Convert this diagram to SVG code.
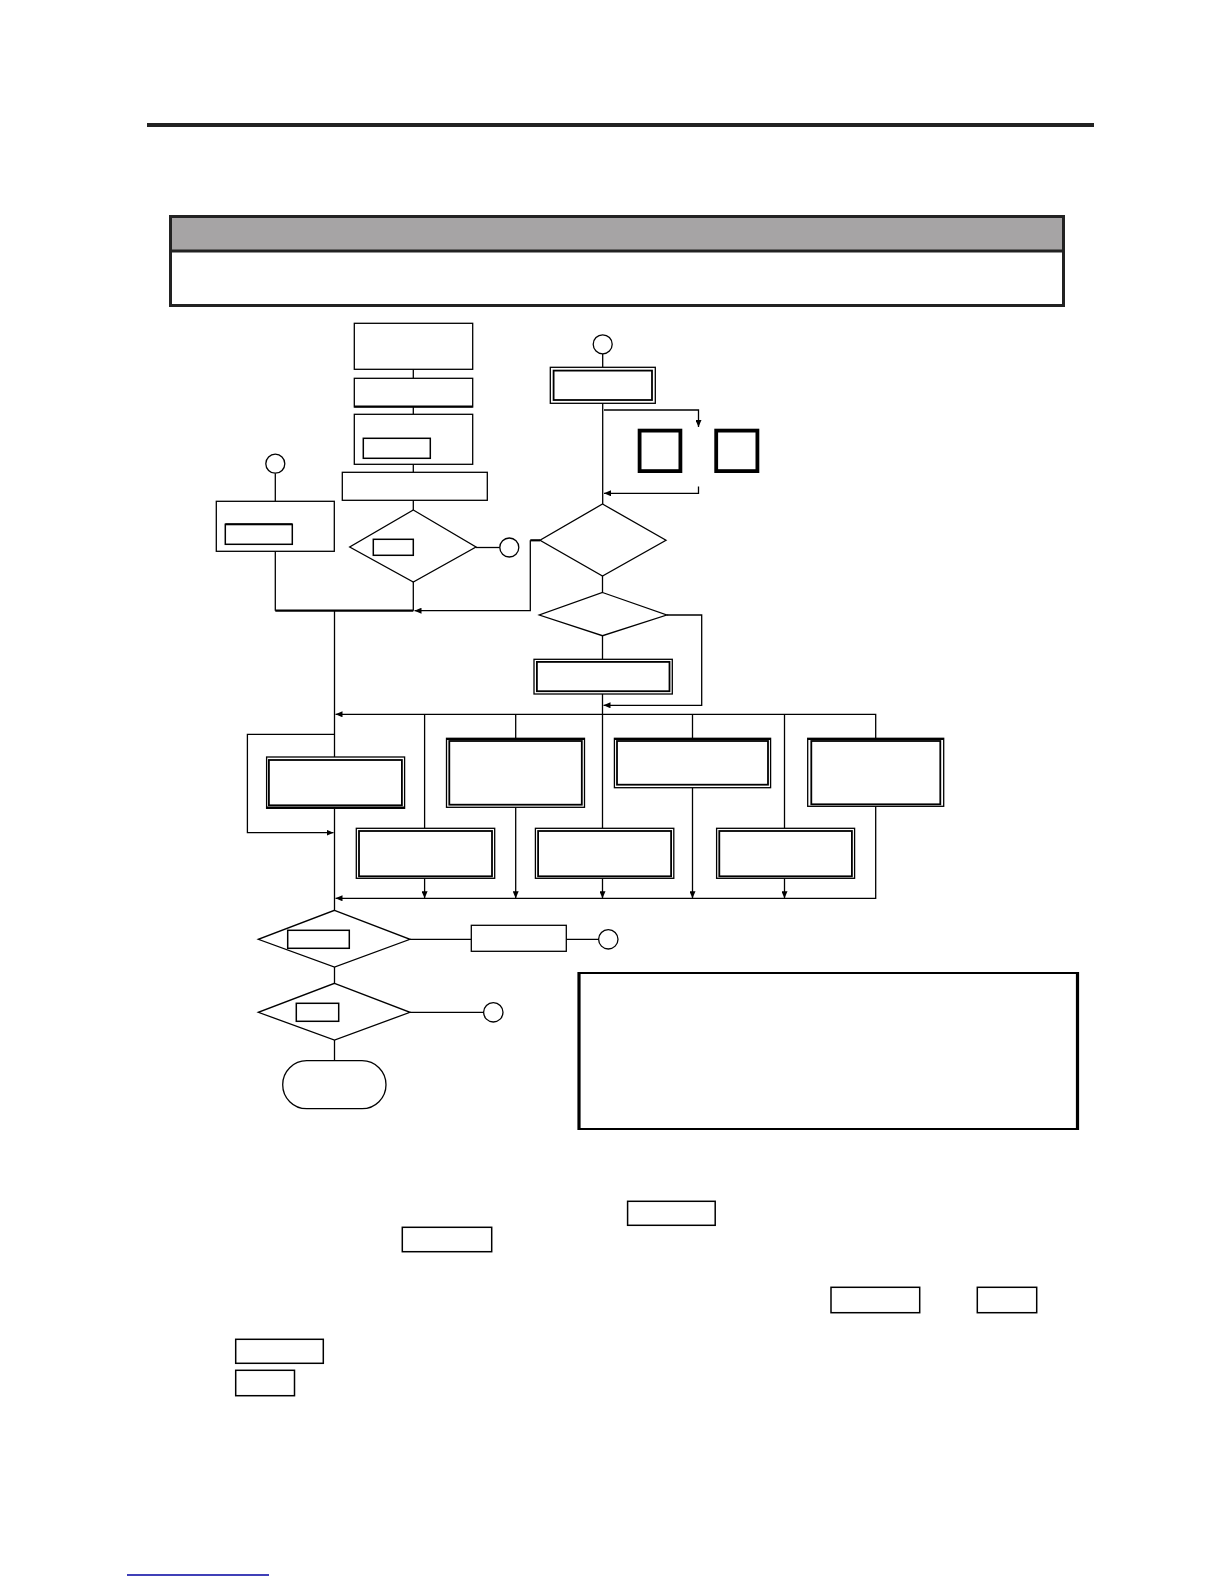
<svg xmlns="http://www.w3.org/2000/svg" width="1224" height="1584" viewBox="0 0 1224 1584">
<style>
.n{fill:#fff;stroke:#000;stroke-width:1.3}
.in{fill:none;stroke:#000;stroke-width:1.8}
.c{fill:none;stroke:#000;stroke-width:1.3}
.thk{fill:none;stroke:#000;stroke-width:2.2}
.sq{fill:#fff;stroke:#000;stroke-width:3.8}
.lab{fill:#fff;stroke:#000;stroke-width:1.5}
</style>
<defs>
<marker id="ar" viewBox="0 0 7 6" markerWidth="7" markerHeight="6" refX="7" refY="3" orient="auto" markerUnits="userSpaceOnUse">
<path d="M0,0 L7,3 L0,6 z" fill="#000"/>
</marker>
</defs>
<rect width="1224" height="1584" fill="#fff"/>

<g id="page-frame">
<line x1="147" y1="125" x2="1094" y2="125" stroke="#222" stroke-width="4"/>
<rect x="170.5" y="216.5" width="893" height="89" fill="#fff" stroke="#222" stroke-width="3"/>
<rect x="172" y="218" width="890" height="32" fill="#a6a4a5"/>
<line x1="170.5" y1="251" x2="1063.5" y2="251" stroke="#222" stroke-width="3"/>
<line x1="127" y1="1575" x2="269" y2="1575" stroke="#0000a0" stroke-width="1.5"/>
</g>

<g id="connectors">
<line class="c" x1="413.3" y1="369.3" x2="413.3" y2="378.3"/>
<line class="c" x1="413.3" y1="407" x2="413.3" y2="414.3"/>
<line class="c" x1="413.3" y1="464.3" x2="413.3" y2="472.3"/>
<line class="c" x1="413.3" y1="500.3" x2="413.3" y2="510"/>
<line class="c" x1="476" y1="547.5" x2="499.8" y2="547.5"/>
<line class="c" x1="275.3" y1="473.2" x2="275.3" y2="501.3"/>
<polyline class="c" points="275.3,551.3 275.3,610.7"/>
<line class="thk" x1="275.3" y1="610.7" x2="413.3" y2="610.7"/>
<line class="c" x1="413.3" y1="582" x2="413.3" y2="610.7"/>
<line class="thk" x1="540" y1="540.3" x2="530.3" y2="540.3"/>
<polyline class="c" points="530.3,540.3 530.3,610.7 414.5,610.7" marker-end="url(#ar)"/>
<line class="c" x1="334.5" y1="610.7" x2="334.5" y2="757"/>
<line class="c" x1="602.7" y1="353.8" x2="602.7" y2="367.3"/>
<line class="c" x1="602.7" y1="403.3" x2="602.7" y2="504"/>
<polyline class="c" points="604,410 698.5,410 698.5,427" marker-end="url(#ar)"/>
<polyline class="c" points="698.5,486.5 698.5,493.3 604,493.3" marker-end="url(#ar)"/>
<line class="c" x1="602.5" y1="576" x2="602.5" y2="592.5"/>
<polyline class="c" points="666.5,615 701.7,615 701.7,705.3 603.5,705.3" marker-end="url(#ar)"/>
<line class="c" x1="602.5" y1="635.7" x2="602.5" y2="659.3"/>
<line class="c" x1="602.5" y1="694" x2="602.5" y2="828.3"/>
<polyline class="c" points="875.7,738.3 875.7,714.3 335.5,714.3" marker-end="url(#ar)"/>
<line class="c" x1="424.6" y1="714.3" x2="424.6" y2="828.3"/>
<line class="c" x1="515.7" y1="714.3" x2="515.7" y2="738.3"/>
<line class="c" x1="692.5" y1="714.3" x2="692.5" y2="738.3"/>
<line class="c" x1="784.5" y1="714.3" x2="784.5" y2="828.3"/>
<polyline class="c" points="334.5,734.3 247.4,734.3 247.4,832.7 333.5,832.7" marker-end="url(#ar)"/>
<line class="c" x1="334.5" y1="808.3" x2="334.5" y2="910.3"/>
<polyline class="c" points="875.7,806.3 875.7,898.3 335.5,898.3" marker-end="url(#ar)"/>
<line class="c" x1="424.6" y1="878.3" x2="424.6" y2="898.3" marker-end="url(#ar)"/>
<line class="c" x1="515.7" y1="807.3" x2="515.7" y2="898.3" marker-end="url(#ar)"/>
<line class="c" x1="602.5" y1="878.3" x2="602.5" y2="898.3" marker-end="url(#ar)"/>
<line class="c" x1="692.5" y1="787.7" x2="692.5" y2="898.3" marker-end="url(#ar)"/>
<line class="c" x1="784.5" y1="878.3" x2="784.5" y2="898.3" marker-end="url(#ar)"/>
<line class="c" x1="410" y1="939.3" x2="471.3" y2="939.3"/>
<line class="c" x1="566.3" y1="939.3" x2="598.6" y2="939.3"/>
<line class="c" x1="334.5" y1="967" x2="334.5" y2="983.3"/>
<line class="c" x1="410" y1="1012.3" x2="483.6" y2="1012.3"/>
<line class="c" x1="334.5" y1="1040" x2="334.5" y2="1060.7"/>
</g>

<g id="start-box-1"><rect class="n" x="354.3" y="323.3" width="118.4" height="46"/></g>
<g id="start-box-2"><rect class="n" x="354.3" y="378.3" width="118.4" height="28.7"/><line x1="354.3" y1="406.5" x2="472.7" y2="406.5" stroke="#000" stroke-width="2"/></g>
<g id="start-box-3"><rect class="n" x="354.3" y="414.3" width="118.4" height="50"/><rect class="lab" x="363.3" y="438.3" width="67" height="20"/></g>
<g id="start-box-4"><rect class="n" x="342.3" y="472.3" width="145" height="28"/></g>
<g id="decision-1"><polygon class="n" points="413.3,510 476,547 413.3,582 349.7,547"/><rect class="lab" x="373.3" y="539.3" width="40" height="16"/></g>
<g id="connector-circle-1"><circle class="n" cx="509.3" cy="547.5" r="9.5"/></g>
<g id="connector-circle-2"><circle class="n" cx="275.3" cy="463.7" r="9.5"/></g>
<g id="left-box"><rect class="n" x="216.3" y="501.3" width="118" height="50"/><rect class="lab" x="225.3" y="524.3" width="67" height="20"/><line x1="225.3" y1="524.3" x2="292.3" y2="524.3" stroke="#000" stroke-width="2"/></g>

<g id="connector-circle-3"><circle class="n" cx="602.7" cy="344.3" r="9.5"/></g>
<g id="double-box-top"><rect class="n" x="550.3" y="367.3" width="105" height="36"/><rect class="in" x="553.6" y="370.6" width="98.4" height="29.4"/></g>
<g id="square-1"><rect class="sq" x="639.6" y="430.6" width="40.8" height="40.5"/></g>
<g id="square-2"><rect class="sq" x="716.2" y="430.6" width="41.2" height="40.5"/></g>
<g id="decision-2"><polygon class="n" points="602.5,504 666,540.3 602.5,576 540,540.3"/></g>
<g id="decision-3"><polygon class="n" points="602.5,592.5 666.7,615 602.5,635.7 539.3,615"/></g>
<g id="double-box-mid"><rect class="n" x="534" y="659.3" width="138.3" height="34.7"/><rect class="in" x="536.9" y="661.9" width="132.6" height="29.3"/></g>

<g id="box-upper-1"><rect class="n" x="266.6" y="757" width="138" height="51.3"/><rect class="in" x="268.9" y="760" width="133" height="45.3"/><line x1="266.6" y1="807.6" x2="404.6" y2="807.6" stroke="#000" stroke-width="2"/></g>
<g id="box-upper-2"><rect class="n" x="446.5" y="738.3" width="138" height="69"/><rect class="in" x="449.3" y="741" width="132.5" height="63.7"/><line x1="446.5" y1="739" x2="584.5" y2="739" stroke="#000" stroke-width="2"/></g>
<g id="box-upper-3"><rect class="n" x="614.4" y="738.3" width="156.2" height="49.4"/><rect class="in" x="617" y="741" width="151" height="43.7"/><line x1="614.4" y1="739" x2="770.6" y2="739" stroke="#000" stroke-width="2"/></g>
<g id="box-upper-4"><rect class="n" x="807.7" y="738.3" width="136" height="68"/><rect class="in" x="811.3" y="741" width="129" height="63.3"/><line x1="807.7" y1="739" x2="943.7" y2="739" stroke="#000" stroke-width="2"/></g>
<g id="box-lower-1"><rect class="n" x="356.3" y="828.3" width="138.4" height="50"/><rect class="in" x="359" y="831" width="133" height="45.3"/></g>
<g id="box-lower-2"><rect class="n" x="535.4" y="828.3" width="138.4" height="50"/><rect class="in" x="538.1" y="831" width="133" height="45.3"/></g>
<g id="box-lower-3"><rect class="n" x="716.6" y="828.3" width="138" height="50"/><rect class="in" x="719.3" y="831" width="132.6" height="45.3"/></g>

<g id="decision-4"><polygon class="n" points="334.5,910.3 410,939.3 334.5,967 258.3,939.3"/><rect class="lab" x="287.7" y="930.3" width="61.6" height="18"/></g>
<g id="side-box"><rect class="n" x="471.3" y="925.3" width="95" height="26"/></g>
<g id="connector-circle-4"><circle class="n" cx="608.3" cy="939.3" r="9.7"/></g>
<g id="decision-5"><polygon class="n" points="334.5,983.3 410,1012.3 334.5,1040 258.3,1012.3"/><rect class="lab" x="296.3" y="1003.3" width="42.4" height="18"/></g>
<g id="connector-circle-5"><circle class="n" cx="493.3" cy="1012.3" r="9.7"/></g>
<g id="terminal"><rect class="n" x="282.7" y="1060.7" width="103.3" height="48" rx="24" ry="24"/></g>

<g id="note-box">
<rect x="579" y="973" width="498.5" height="156" fill="#fff" stroke="#000" stroke-width="2"/>
<line x1="579" y1="972" x2="579" y2="1130" stroke="#000" stroke-width="3.2"/>
<line x1="1077.5" y1="972" x2="1077.5" y2="1130" stroke="#000" stroke-width="3.2"/>
</g>

<g id="inline-labels">
<rect class="lab" x="627.6" y="1201.3" width="87.6" height="24"/>
<rect class="lab" x="402.3" y="1227.3" width="89.4" height="24.4"/>
<rect class="lab" x="831" y="1287.3" width="88.7" height="25.4"/>
<rect class="lab" x="977.3" y="1287.3" width="59.4" height="25.4"/>
<rect class="lab" x="235.7" y="1339.3" width="87.6" height="24"/>
<rect class="lab" x="235.7" y="1370.3" width="58.8" height="25.4"/>
</g>
</svg>
